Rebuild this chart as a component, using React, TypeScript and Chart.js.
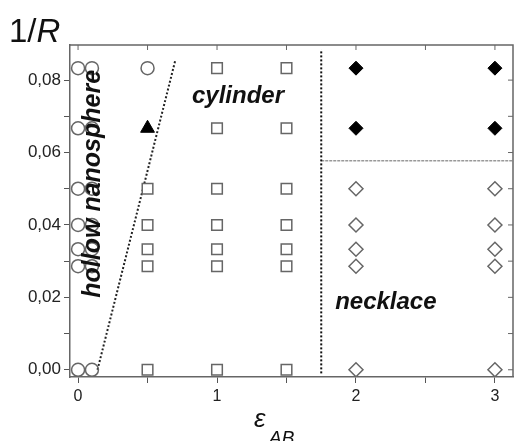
import React, { useEffect, useRef } from 'react';
import { Chart, registerables } from 'chart.js';

Chart.register(...registerables);

// 1/R values (R = 12, 15, 20, 25, 30, 35, infinity)
const invR = [0.0833, 0.0667, 0.05, 0.04, 0.0333, 0.0286, 0.0];

// hollow nanosphere (open circles)
const sphereColumns = [0, 0.1];
const sphereExtra: [number, number][] = [[0.5, 0.0833]];
// filled triangle
const trianglePts: [number, number][] = [[0.5, 0.0667]];
// cylinder (open squares)
const cylHalf = [0.05, 0.04, 0.0333, 0.0286, 0.0];
const cylColumns = [1, 1.5];
// necklace
const neckColumns = [2, 3];
const neckFilled = [0.0833, 0.0667];
const neckOpen = [0.05, 0.04, 0.0333, 0.0286, 0.0];

// phase boundaries
const diagLine: [number, number][] = [[0.14, 0.0], [0.7, 0.0855]];
const vertLine: [number, number][] = [[1.75, -0.001], [1.75, 0.0885]];
const horizLine: [number, number][] = [[1.75, 0.0577], [3.13, 0.0577]];

const xRange = [-0.058, 3.13];
const yRange = [-0.002, 0.0897];
const xMajor = [0, 1, 2, 3];
const yMajor = [0, 0.02, 0.04, 0.06, 0.08];

const FONT = '"Liberation Sans", Arial, Helvetica, sans-serif';

const toPts = (arr: [number, number][]) => arr.map(([x, y]) => ({ x, y }));

export default function App() {
  const ref = useRef<HTMLCanvasElement | null>(null);

  useEffect(() => {
    document.body.style.margin = '0';
    const canvas = ref.current;
    if (!canvas) return;

    const spherePts = [
      ...sphereColumns.flatMap((x) => invR.map((y) => ({ x, y }))),
      ...toPts(sphereExtra),
    ];
    const cylPts = [
      ...cylHalf.map((y) => ({ x: 0.5, y })),
      ...cylColumns.flatMap((x) => invR.map((y) => ({ x, y }))),
    ];
    const neckFilledPts = neckColumns.flatMap((x) => neckFilled.map((y) => ({ x, y })));
    const neckOpenPts = neckColumns.flatMap((x) => neckOpen.map((y) => ({ x, y })));

    const framePlugin = {
      id: 'frame',
      afterDraw(chart: any) {
        const { ctx, chartArea: a, scales } = chart;
        const xs = scales.x;
        const ys = scales.y;
        ctx.save();
        ctx.strokeStyle = '#666';
        ctx.lineWidth = 1.5;
        ctx.beginPath();
        ctx.moveTo(a.left, a.top);
        ctx.lineTo(a.right, a.top);
        ctx.lineTo(a.right, a.bottom);
        ctx.stroke();
        ctx.lineWidth = 1;
        ctx.beginPath();
        xs.ticks.forEach((t: any) => {
          const px = xs.getPixelForValue(t.value);
          ctx.moveTo(px, a.top);
          ctx.lineTo(px, a.top + 5);
        });
        ys.ticks.forEach((t: any) => {
          const py = ys.getPixelForValue(t.value);
          ctx.moveTo(a.right, py);
          ctx.lineTo(a.right - 5, py);
        });
        ctx.stroke();

        // annotation texts
        ctx.fillStyle = '#111';
        ctx.textBaseline = 'alphabetic';
        ctx.textAlign = 'left';
        ctx.font = `italic bold 24px ${FONT}`;
        ctx.fillText('cylinder', xs.getPixelForValue(0.82), ys.getPixelForValue(0.0737));
        ctx.fillText('necklace', xs.getPixelForValue(1.85), ys.getPixelForValue(0.0168));
        ctx.save();
        ctx.translate(xs.getPixelForValue(0.158), ys.getPixelForValue(0.0199));
        ctx.rotate(-Math.PI / 2);
        ctx.font = `italic bold 25px ${FONT}`;
        ctx.fillText('hollow nanosphere', 0, 0);
        ctx.restore();

        // y axis title 1/R
        ctx.fillStyle = '#111';
        ctx.font = `33px ${FONT}`;
        ctx.fillText('1/', 9, 42);
        const w = ctx.measureText('1/').width;
        ctx.font = `italic 33px ${FONT}`;
        ctx.fillText('R', 9 + w, 42);

        // x axis title epsilon_AB
        ctx.font = `italic 26px ${FONT}`;
        ctx.fillText('\u03B5', 254, 427);
        ctx.font = `italic 19px ${FONT}`;
        ctx.fillText('AB', 269, 444);
        ctx.restore();
      },
    };

    const chart = new Chart(canvas, {
      type: 'scatter',
      data: {
        datasets: [
          {
            data: toPts(trianglePts),
            pointStyle: 'triangle',
            pointRadius: 8,
            backgroundColor: '#000',
            borderColor: '#000',
            borderWidth: 1,
          },
          {
            data: neckFilledPts,
            pointStyle: 'rectRot',
            pointRadius: 7,
            backgroundColor: '#000',
            borderColor: '#000',
            borderWidth: 1,
          },
          {
            data: spherePts,
            pointStyle: 'circle',
            pointRadius: 6.5,
            backgroundColor: 'rgba(255,255,255,0)',
            borderColor: '#666',
            borderWidth: 1.5,
          },
          {
            data: cylPts,
            pointStyle: 'rect',
            pointRadius: 7.5,
            backgroundColor: '#fff',
            borderColor: '#666',
            borderWidth: 1.5,
          },
          {
            data: neckOpenPts,
            pointStyle: 'rectRot',
            pointRadius: 7,
            backgroundColor: '#fff',
            borderColor: '#666',
            borderWidth: 1.5,
          },
          {
            data: toPts(diagLine),
            showLine: true,
            pointRadius: 0,
            borderColor: '#222',
            borderWidth: 2,
            borderDash: [2, 2],
          },
          {
            data: toPts(vertLine),
            showLine: true,
            pointRadius: 0,
            borderColor: '#111',
            borderWidth: 2,
            borderDash: [2, 2],
          },
          {
            data: toPts(horizLine),
            showLine: true,
            pointRadius: 0,
            borderColor: '#999',
            borderWidth: 1.5,
            borderDash: [3, 1],
          },
        ],
      },
      options: {
        responsive: false,
        animation: false,
        events: [],
        layout: { autoPadding: false, padding: { top: 45, right: 3, left: 0, bottom: 0 } },
        plugins: { legend: { display: false }, tooltip: { enabled: false } },
        scales: {
          x: {
            type: 'linear',
            min: xRange[0],
            max: xRange[1],
            afterFit: (s: any) => {
              s.height = 64;
            },
            ticks: {
              stepSize: 0.5,
              includeBounds: false,
              autoSkip: false,
              maxRotation: 0,
              padding: 4,
              color: '#222',
              font: { family: FONT, size: 16 },
              callback: (v: any) => {
                const n = Number(v);
                return xMajor.some((m) => Math.abs(m - n) < 1e-6) ? String(Math.round(n)) : '';
              },
            },
            grid: { drawOnChartArea: false, tickLength: 6, color: '#555' },
            border: { color: '#666', width: 1.5 },
          },
          y: {
            type: 'linear',
            min: yRange[0],
            max: yRange[1],
            afterFit: (s: any) => {
              s.width = 70;
            },
            ticks: {
              stepSize: 0.01,
              includeBounds: false,
              autoSkip: false,
              padding: 3,
              color: '#222',
              font: { family: FONT, size: 17 },
              callback: (v: any) => {
                const n = Number(v);
                return yMajor.some((m) => Math.abs(m - n) < 1e-6) ? n.toFixed(2).replace('.', ',') : '';
              },
            },
            grid: { drawOnChartArea: false, tickLength: 6, color: '#555' },
            border: { color: '#666', width: 1.5 },
          },
        },
      },
      plugins: [framePlugin],
    });

    return () => chart.destroy();
  }, []);

  return (
    <div style={{ width: 516, height: 441 }}>
      <canvas ref={ref} width={516} height={441} style={{ width: 516, height: 441, display: 'block' }} />
    </div>
  );
}
